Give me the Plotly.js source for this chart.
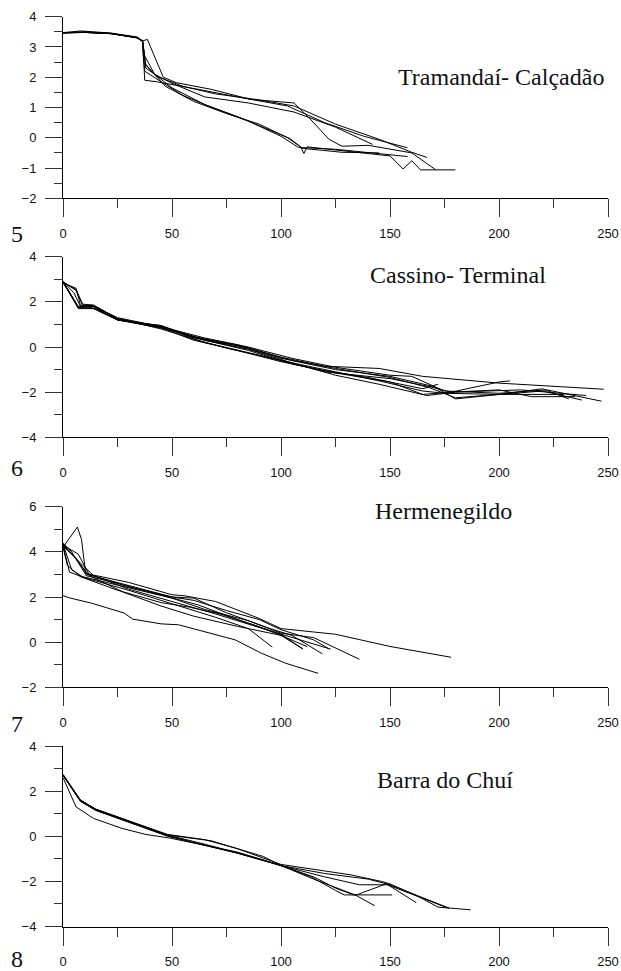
<!DOCTYPE html>
<html>
<head>
<meta charset="utf-8">
<script src="https://cdn.plot.ly/plotly-3.0.1.min.js"></script>
<style>html,body{margin:0;padding:0;background:#fff;}#chart{width:621px;height:971px;}</style>
</head>
<body>
<div id="chart"></div>
<script>
// ---------- DATA ----------
// Panel titles and numbers
const stationNames = ["Tramandaí- Calçadão", "Cassino- Terminal", "Hermenegildo", "Barra do Chuí"];
const panelNumbers = ["5", "6", "7", "8"];
const xTickVals = [0, 50, 100, 150, 200, 250];

// Panel 5: Tramandaí- Calçadão (distance m, elevation m)
const tramX = [
  [0,8,22,34,36.5,38.7,46,52,68,86,106,113,122,128,140,160,171],
  [0,10,22,34,36.5,37.5,43,50,62,80,103,120,138,158],
  [0,10,22,34,36.5,38,44,55,70,90,106,125,145,160,167],
  [0,10,22,34,36.5,37.5,42,50,65,85,106,125,142],
  [0,10,22,34,36.5,37,42,50,65,80,95,104,109,110.5,112,125,150,156,160,164,180],
  [0,10,22,34,36.5,37.5,45,55,70,85,100,108,125,150,158],
  [0,10,22,34,36.5,38,47,60,75,90,103,110,128,145]
];
const tramY = [
  [3.47,3.53,3.46,3.33,3.2,3.25,2.0,1.82,1.6,1.27,1.15,0.65,-0.05,-0.28,-0.25,-0.5,-1.06],
  [3.46,3.5,3.45,3.3,3.18,1.9,1.85,1.75,1.6,1.35,1.05,0.5,0.05,-0.33],
  [3.48,3.49,3.44,3.32,3.2,2.3,2.0,1.7,1.45,1.25,1.05,0.45,-0.05,-0.48,-0.65],
  [3.47,3.48,3.44,3.3,3.18,2.7,2.1,1.8,1.35,1.15,0.85,0.35,-0.22],
  [3.47,3.49,3.45,3.31,3.2,2.5,2.1,1.65,1.1,0.7,0.25,-0.02,-0.3,-0.52,-0.3,-0.4,-0.6,-1.03,-0.76,-1.06,-1.06],
  [3.46,3.48,3.44,3.3,3.19,2.2,1.85,1.4,0.95,0.55,0.05,-0.32,-0.38,-0.55,-0.62],
  [3.47,3.48,3.44,3.31,3.2,2.4,1.7,1.2,0.8,0.45,0.0,-0.35,-0.48,-0.5]
];

// Panel 6: Cassino- Terminal
const cassX = [
  [0,5,7,12,16,25,35,45,60,80,100,120,145,165,200,248],
  [0,6,9,14,25,45,65,85,105,125,150,170,180,200,220,238],
  [0,7,15,25,45,60,75,100,120,150,168,178,200,205],
  [0,5,8,13,25,45,65,85,105,125,150,160,175,200,222,247],
  [0,6,8,14,25,45,60,80,100,120,140,165,172],
  [0,7,13,25,45,65,85,105,125,145,165,175,200,230],
  [0,7,14,25,45,65,85,105,125,145,167,180,210,240],
  [0,6,9,14,25,45,60,80,100,125,150,168,180,200,220,232],
  [0,7,14,25,45,65,85,105,125,150,165,178,200,215,235]
];
const cassY = [
  [2.9,2.1,1.75,1.8,1.75,1.25,1.05,0.95,0.45,0.1,-0.45,-0.85,-0.95,-1.3,-1.6,-1.87],
  [2.85,2.55,1.9,1.85,1.25,0.85,0.35,-0.05,-0.6,-1.0,-1.3,-1.75,-2.3,-2.1,-1.95,-2.35],
  [2.9,1.7,1.7,1.2,0.95,0.35,-0.05,-0.6,-1.1,-1.4,-1.75,-2.0,-1.55,-1.5],
  [2.9,2.4,1.8,1.85,1.3,0.9,0.4,0.0,-0.5,-0.9,-1.25,-1.3,-1.95,-2.05,-1.9,-2.4],
  [2.85,2.6,1.85,1.8,1.2,0.85,0.3,-0.15,-0.65,-1.05,-1.35,-1.85,-1.65],
  [2.9,1.8,1.75,1.2,0.9,0.3,-0.1,-0.7,-1.1,-1.5,-1.95,-2.05,-2.1,-2.1],
  [2.9,1.75,1.8,1.25,0.8,0.2,-0.25,-0.7,-1.25,-1.65,-2.15,-2.0,-1.9,-2.15],
  [2.9,2.5,1.85,1.85,1.25,0.9,0.4,0.05,-0.5,-0.95,-1.35,-1.8,-2.25,-2.1,-1.85,-2.3],
  [2.85,1.75,1.7,1.2,0.85,0.3,-0.15,-0.75,-1.15,-1.55,-2.1,-2.0,-1.9,-2.2,-2.2]
];

// Panel 7: Hermenegildo
const hermX = [
  [0,3,13,28,32,45,53,79,91,102,117],
  [0,6.6,8.5,10.5,25,45,62,80,100,110],
  [0,4,10,30,50,56,70,90,100,125,150,178],
  [0,4,9,30,50,65,85,100,115,136],
  [0,6,11,30,50,60,75,95,105,119],
  [0,8,14,30,50,70,90,100,122.8],
  [0,3,10,30,50,70,85,96],
  [0,5,12,28,45,60,80,100,110],
  [0,7,12,30,50,60,75,90,100,115,122],
  [0,2,8,25,45,58,72,88,100,112]
];
const hermY = [
  [2.06,1.96,1.73,1.29,1.02,0.81,0.77,0.1,-0.49,-0.93,-1.38],
  [4.2,5.1,4.55,2.95,2.6,2.1,1.65,1.0,0.35,-0.3],
  [4.4,4.0,3.05,2.65,2.1,2.05,1.8,1.05,0.6,0.35,-0.19,-0.67],
  [4.35,3.2,2.9,2.4,1.95,1.45,0.95,0.4,0.2,-0.76],
  [4.3,3.7,3.0,2.5,2.0,1.95,1.3,0.6,0.3,-0.52],
  [4.35,3.5,2.95,2.35,1.8,1.25,0.65,0.35,-0.31],
  [4.3,3.1,2.85,2.3,1.7,1.1,0.6,-0.22],
  [4.25,3.8,2.95,2.2,1.6,1.15,0.7,0.3,-0.3],
  [4.3,3.9,3.0,2.45,2.0,1.85,1.4,1.0,0.55,0.1,-0.3],
  [4.2,3.4,2.9,2.3,1.75,1.55,1.25,0.75,0.3,-0.2]
];

// Panel 8: Barra do Chuí
const barraX = [
  [0,6,14,27,38,49,65,80,100,113.6,125,129,151],
  [0,8,15,25,35,48,65,80,100,132,146,150,163,172,187],
  [0,8,15,25,35,48,65,80,100,120,136,149,162],
  [0,8,15,25,35,48,65,80,100,115,134,143],
  [0,8,15,25,35,48,65,80,92,100,115,125,134,148,177],
  [0,8,15,25,35,48,68,80,92,100,120,140,150,177]
];
const barraY = [
  [2.6,1.3,0.79,0.35,0.08,-0.08,-0.4,-0.75,-1.3,-1.79,-2.4,-2.6,-2.6],
  [2.75,1.6,1.2,0.85,0.5,0.08,-0.15,-0.55,-1.25,-1.71,-2.0,-2.11,-2.67,-3.14,-3.26],
  [2.7,1.55,1.15,0.8,0.45,0.0,-0.4,-0.7,-1.3,-1.8,-2.15,-2.15,-2.94],
  [2.7,1.55,1.15,0.8,0.45,0.02,-0.4,-0.75,-1.3,-1.9,-2.6,-3.08],
  [2.7,1.6,1.2,0.85,0.5,0.05,-0.35,-0.75,-1.05,-1.3,-1.8,-2.3,-2.62,-2.12,-3.2],
  [2.72,1.6,1.2,0.85,0.5,0.05,-0.2,-0.55,-0.9,-1.3,-1.65,-1.9,-2.15,-3.18]
];

// y-axis settings per panel
const yRanges = [[-2,4],[-4,4],[-2,6],[-4,4]];
const yDticks = [1, 2, 2, 2];

// ---------- BUILD ----------
const panelsX = [tramX, cassX, hermX, barraX];
const panelsY = [tramY, cassY, hermY, barraY];
const W = 621, H = 971;
const xDom = [63/W, 608/W];
const yPix = [[16.7,198.3],[256.7,437.3],[506.7,687.3],[746,926.5]];

const traces = [];
panelsX.forEach((px, p) => {
  const suf = p === 0 ? '' : String(p+1);
  px.forEach((xs, i) => {
    traces.push({
      x: xs, y: panelsY[p][i], type: 'scatter', mode: 'lines',
      xaxis: 'x' + suf, yaxis: 'y' + suf,
      line: {color: '#000', width: 1}, hoverinfo: 'skip', showlegend: false
    });
  });
});

const tickFont = {family: 'Liberation Sans, Arial, sans-serif', size: 13, color: '#111'};
const layout = {
  width: W, height: H,
  margin: {l: 0, r: 0, t: 0, b: 0},
  paper_bgcolor: '#fff', plot_bgcolor: '#fff',
  showlegend: false,
  annotations: []
};
const labelPos = [[395.7,77],[368,274.7],[373,510.5],[375,780]];
const numPos = [233.5,468,723.5,958.5];
for (let p = 0; p < 4; p++) {
  const suf = p === 0 ? '' : String(p+1);
  const dom = [1 - yPix[p][1]/H, 1 - yPix[p][0]/H];
  layout['xaxis' + suf] = {
    domain: xDom, anchor: 'y' + suf, range: [0, 250],
    showline: true, linecolor: '#000', linewidth: 1,
    ticks: 'outside', ticklen: 18, tickwidth: 1, tickcolor: '#333',
    tickvals: xTickVals, ticktext: xTickVals.map(String),
    minor: {ticks: 'outside', ticklen: 9, tickwidth: 1, tickcolor: '#333', dtick: 25, tick0: 0, showgrid: false},
    showgrid: false, zeroline: false, tickfont: tickFont, ticklabelstandoff: 5,
    fixedrange: true
  };
  layout['yaxis' + suf] = {
    domain: dom, anchor: 'x' + suf, range: yRanges[p],
    showline: true, linecolor: '#000', linewidth: 1,
    ticks: 'outside', ticklen: 17, tickwidth: 1, tickcolor: '#333',
    dtick: yDticks[p], tick0: 0,
    minor: {ticks: 'outside', ticklen: 8, tickwidth: 1, tickcolor: '#333', dtick: yDticks[p]/2, showgrid: false},
    showgrid: false, zeroline: false, tickfont: tickFont, ticklabelstandoff: 6,
    fixedrange: true
  };
  layout.annotations.push({
    text: stationNames[p], xref: 'paper', yref: 'paper',
    x: labelPos[p][0]/W, y: 1 - labelPos[p][1]/H, xanchor: 'left', yanchor: 'middle',
    showarrow: false, font: {family: 'Liberation Serif, Times New Roman, serif', size: 24, color: '#111'}
  });
  layout.annotations.push({
    text: panelNumbers[p], xref: 'paper', yref: 'paper',
    x: 17/W, y: 1 - numPos[p]/H, xanchor: 'center', yanchor: 'middle',
    showarrow: false, font: {family: 'Liberation Serif, Times New Roman, serif', size: 24, color: '#111'}
  });
}

Plotly.newPlot('chart', traces, layout, {displayModeBar: false, staticPlot: true});
</script>
</body>
</html>
